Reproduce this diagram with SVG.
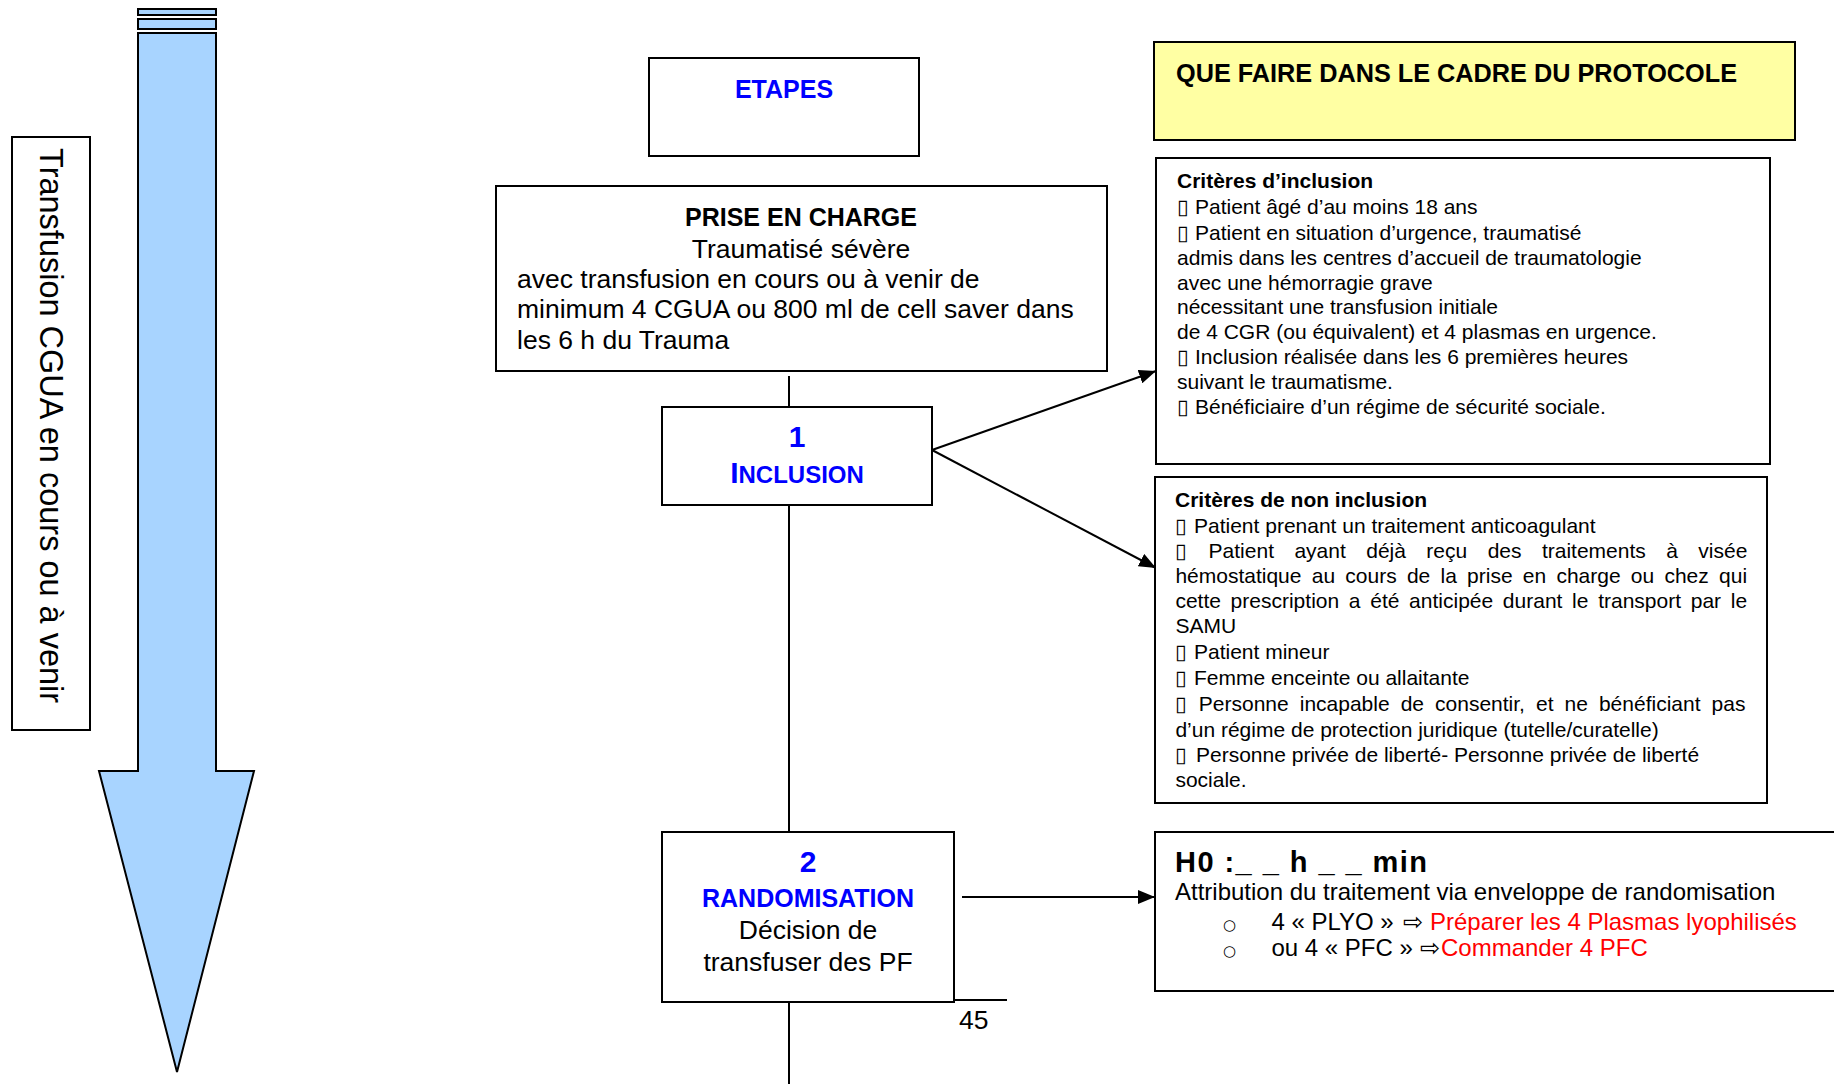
<svg xmlns="http://www.w3.org/2000/svg" width="1834" height="1084" viewBox="0 0 1834 1084">
<style>
.box{fill:#fff;stroke:#000;stroke-width:2}
.yel{fill:#FFFFA3;stroke:#000;stroke-width:2}
.shape{fill:#A8D4FF;stroke:#000;stroke-width:2}
.t{font-family:"Liberation Sans",Arial,sans-serif;fill:#000}
.b{font-weight:bold}
.blue{fill:#0000FF}
.red{fill:#FF0000}
.bul{font-family:"DejaVu Sans","Liberation Sans",sans-serif}
.conn{stroke:#000;stroke-width:2;fill:none}
.s21{font-size:21px}
.s26{font-size:26.5px}
.s24{font-size:24px}
</style>
<defs>
<marker id="arr" markerUnits="userSpaceOnUse" markerWidth="18" markerHeight="14" refX="17" refY="7" orient="auto">
<path d="M0,0 L17,7 L0,14 Z" fill="#000"/>
</marker>
</defs>

<g id="timeline-arrow">
<rect x="138" y="9" width="78" height="6" class="shape"/>
<rect x="138" y="19" width="78" height="10" class="shape"/>
<path d="M138,33 H216 V771 H254 L177,1072 L99,771 H138 Z" class="shape"/>
</g>

<g id="timeline-label">
<rect x="12" y="137" width="78" height="593" class="box"/>
<text class="t" font-size="32.5" transform="translate(39.5,148) rotate(90)">Transfusion CGUA en cours ou à venir</text>
</g>

<g id="connectors">
<line x1="789" y1="376" x2="789" y2="407" class="conn"/>
<line x1="789" y1="505" x2="789" y2="832" class="conn"/>
<line x1="789" y1="1002" x2="789" y2="1084" class="conn"/>
<line x1="932" y1="450" x2="1156" y2="371" class="conn" marker-end="url(#arr)"/>
<line x1="932" y1="450" x2="1156" y2="568" class="conn" marker-end="url(#arr)"/>
<line x1="962" y1="897" x2="1155" y2="897" class="conn" marker-end="url(#arr)"/>
</g>

<g id="etapes">
<rect x="649" y="58" width="270" height="98" class="box"/>
<text class="t b blue" font-size="25" x="784" y="98" text-anchor="middle">ETAPES</text>
</g>

<g id="prise-en-charge">
<rect x="496" y="186" width="611" height="185" class="box"/>
<text class="t b" font-size="25" x="801" y="226" text-anchor="middle">PRISE EN CHARGE</text>
<text class="t s26" x="801" y="258" text-anchor="middle">Traumatisé sévère</text>
<text class="t s26" x="517" y="288">avec transfusion en cours ou à venir de</text>
<text class="t s26" x="517" y="318">minimum 4 CGUA ou 800 ml de cell saver dans</text>
<text class="t s26" x="517" y="349">les 6 h du Trauma</text>
</g>

<g id="inclusion">
<rect x="662" y="407" width="270" height="98" class="box"/>
<text class="t b blue" font-size="30" x="797" y="447" text-anchor="middle">1</text>
<text class="t b blue" x="797" y="483" text-anchor="middle"><tspan font-size="30">I</tspan><tspan font-size="24">NCLUSION</tspan></text>
</g>

<g id="randomisation">
<rect x="662" y="832" width="292" height="170" class="box"/>
<text class="t b blue" font-size="30" x="808" y="872" text-anchor="middle">2</text>
<text class="t b blue" font-size="25" x="808" y="907" text-anchor="middle">RANDOMISATION</text>
<text class="t s26" x="808" y="939" text-anchor="middle">Décision de</text>
<text class="t s26" x="808" y="971" text-anchor="middle">transfuser des PF</text>
</g>

<g id="page-number">
<line x1="954" y1="1000" x2="1007" y2="1000" stroke="#000" stroke-width="2"/>
<text class="t s26" x="959" y="1029">45</text>
</g>

<g id="protocole-header">
<rect x="1154" y="42" width="641" height="98" class="yel"/>
<text class="t b" font-size="25" x="1176" y="82" textLength="561" lengthAdjust="spacingAndGlyphs">QUE FAIRE DANS LE CADRE DU PROTOCOLE</text>
</g>

<g id="criteres-inclusion">
<rect x="1156" y="158" width="614" height="306" class="box"/>
<text class="t b s21" x="1177" y="188">Critères d’inclusion</text>
<text class="t s21" y="214"><tspan class="bul" x="1177">▯</tspan><tspan x="1195">Patient âgé d’au moins 18 ans</tspan></text>
<text class="t s21" y="240"><tspan class="bul" x="1177">▯</tspan><tspan x="1195">Patient en situation d’urgence, traumatisé</tspan></text>
<text class="t s21" x="1177" y="265">admis dans les centres d’accueil de traumatologie</text>
<text class="t s21" x="1177" y="290">avec une hémorragie grave</text>
<text class="t s21" x="1177" y="314">nécessitant une transfusion initiale</text>
<text class="t s21" x="1177" y="339">de 4 CGR (ou équivalent) et 4 plasmas en urgence.</text>
<text class="t s21" y="364"><tspan class="bul" x="1177">▯</tspan><tspan x="1195">Inclusion réalisée dans les 6 premières heures</tspan></text>
<text class="t s21" x="1177" y="389">suivant le traumatisme.</text>
<text class="t s21" y="414"><tspan class="bul" x="1177">▯</tspan><tspan x="1195">Bénéficiaire d’un régime de sécurité sociale.</tspan></text>
</g>

<g id="criteres-non-inclusion">
<rect x="1155" y="477" width="612" height="326" class="box"/>
<text class="t b s21" x="1175" y="507">Critères de non inclusion</text>
<text class="t s21" y="533"><tspan class="bul" x="1175">▯</tspan><tspan x="1194">Patient prenant un traitement anticoagulant</tspan></text>
<text class="t s21" y="558"><tspan class="bul" x="1175">▯</tspan><tspan x="1208.6" word-spacing="14.6">Patient ayant déjà reçu des traitements à visée</tspan></text>
<text class="t s21" x="1175.4" y="583" word-spacing="4.4">hémostatique au cours de la prise en charge ou chez qui</text>
<text class="t s21" x="1175.4" y="608" word-spacing="3.86">cette prescription a été anticipée durant le transport par le</text>
<text class="t s21" x="1175.4" y="633">SAMU</text>
<text class="t s21" y="659"><tspan class="bul" x="1175">▯</tspan><tspan x="1194">Patient mineur</tspan></text>
<text class="t s21" y="685"><tspan class="bul" x="1175">▯</tspan><tspan x="1194">Femme enceinte ou allaitante</tspan></text>
<text class="t s21" y="711"><tspan class="bul" x="1175">▯</tspan><tspan x="1198.8" word-spacing="5.2">Personne incapable de consentir, et ne bénéficiant pas</tspan></text>
<text class="t s21" x="1175.4" y="737">d’un régime de protection juridique (tutelle/curatelle)</text>
<text class="t s21" y="762"><tspan class="bul" x="1175">▯</tspan><tspan x="1196">Personne privée de liberté- Personne privée de liberté</tspan></text>
<text class="t s21" x="1175.4" y="787">sociale.</text>
</g>

<g id="h0">
<rect x="1155" y="832" width="700" height="159" class="box"/>
<text class="t b" font-size="29" x="1175" y="872" textLength="252" lengthAdjust="spacing">H0 :_ _ h _ _ min</text>
<text class="t s24" x="1175" y="900">Attribution du traitement via enveloppe de randomisation</text>
<text class="t s24" y="930"><tspan class="bul" font-size="15" x="1223">○</tspan><tspan x="1271.4">4 « PLYO » </tspan><tspan class="bul" font-size="24" x="1403">⇨</tspan><tspan class="red" x="1430">Préparer les 4 Plasmas lyophilisés</tspan></text>
<text class="t s24" y="956"><tspan class="bul" font-size="15" x="1223">○</tspan><tspan x="1271.4">ou 4 « PFC » </tspan><tspan class="bul" font-size="24" x="1420">⇨</tspan><tspan class="red" x="1441">Commander 4 PFC</tspan></text>
</g>
</svg>
